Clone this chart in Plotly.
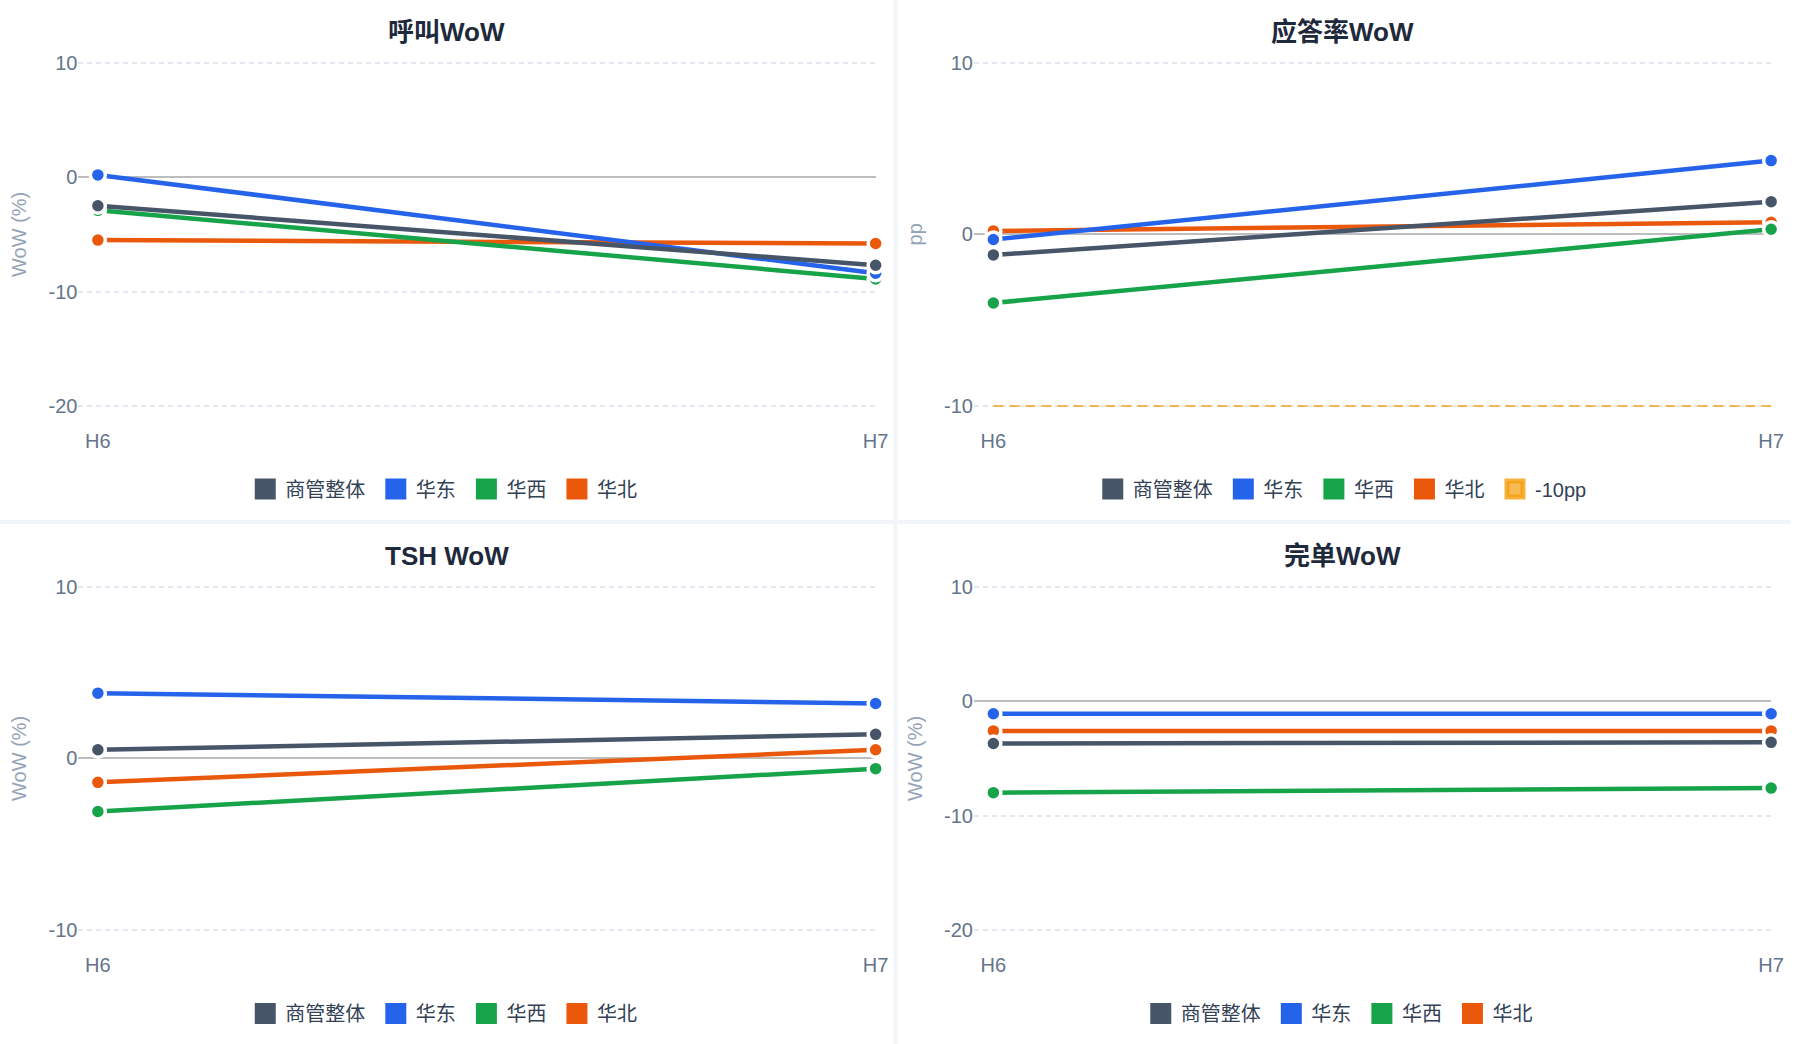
import plotly.graph_objects as go

# ---- data ----
periods = ["H6", "H7"]
regions = ["商管整体", "华东", "华西", "华北"]
region_colors = ["#475569", "#2563eb", "#16a34a", "#ea580c"]

calls_wow = {"商管整体": [-2.5, -7.7], "华东": [0.2, -8.4], "华西": [-2.9, -8.9], "华北": [-5.5, -5.8]}
answer_rate_wow = {"商管整体": [-1.2, 1.9], "华东": [-0.3, 4.3], "华西": [-4.0, 0.3], "华北": [0.2, 0.7]}
tsh_wow = {"商管整体": [0.5, 1.4], "华东": [3.8, 3.2], "华西": [-3.1, -0.6], "华北": [-1.4, 0.5]}
completed_wow = {"商管整体": [-3.7, -3.6], "华东": [-1.1, -1.1], "华西": [-8.0, -7.6], "华北": [-2.6, -2.6]}

answer_threshold = [-10, -10]
threshold_name = "-10pp"

ticks_wide = [-20, -10, 0, 10]
ticks_narrow = [-10, 0, 10]

W, H = 1804, 1044
FONT = "Liberation Sans, Noto Sans CJK SC, sans-serif"


def px_x(p):
    return p / W


def px_y(p):
    return 1 - p / H


# panel: title, data, y title, ticks, range, column, row
panels = [
    ("呼叫WoW", calls_wow, "WoW (%)", ticks_wide, [-21.85, 11.85], 0, 0),
    ("应答率WoW", answer_rate_wow, "pp", ticks_narrow, [-11.23, 11.23], 1, 0),
    ("TSH WoW", tsh_wow, "WoW (%)", ticks_narrow, [-11.23, 11.23], 0, 1),
    ("完单WoW", completed_wow, "WoW (%)", ticks_wide, [-21.85, 11.85], 1, 1),
]

fig = go.Figure()
annotations = []
layout_axes = {}

for i, (title, data, ytitle, ticks, yrange, col, row) in enumerate(panels):
    n = "" if i == 0 else str(i + 1)
    xa, ya = "x" + n, "y" + n
    leg = "legend" + n
    x0 = 79 + col * 902
    y0 = 41.7 + row * 524

    layout_axes["xaxis" + n] = dict(
        domain=[px_x(x0), px_x(x0 + 803)],
        anchor=ya,
        type="category",
        range=[-0.025, 1],
        showgrid=False,
        zeroline=False,
        showline=False,
        ticks="",
        tickfont=dict(size=20, color="#64748b"),
    )
    layout_axes["yaxis" + n] = dict(
        domain=[px_y(y0 + 385.3), px_y(y0)],
        anchor=xa,
        range=yrange,
        tickvals=ticks,
        ticktext=[str(t) for t in ticks],
        showgrid=True,
        gridcolor="#e2e8f0",
        griddash="5px,4px",
        gridwidth=1.5,
        zeroline=True,
        zerolinecolor="#bdbdbd",
        zerolinewidth=2,
        showline=False,
        ticks="",
        tickfont=dict(size=20, color="#64748b"),
        title=dict(text=ytitle, font=dict(size=20, color="#94a3b8"), standoff=16),
    )

    # threshold line for answer rate
    if title == "应答率WoW":
        fig.add_trace(
            go.Scatter(
                x=periods,
                y=answer_threshold,
                mode="lines",
                line=dict(color="#f59e0b", width=2, dash="10px,6px"),
                opacity=0.7,
                showlegend=False,
                legendgroup=f"{i}-{threshold_name}",
                xaxis=xa,
                yaxis=ya,
                hoverinfo="skip",
            )
        )

    # draw back-to-front so 商管整体 ends on top
    for r, c in reversed(list(zip(regions, region_colors))):
        fig.add_trace(
            go.Scatter(
                x=periods,
                y=data[r],
                mode="lines+markers",
                name=r,
                line=dict(color=c, width=4.5),
                marker=dict(size=15, color=c, line=dict(color="white", width=3.5)),
                showlegend=False,
                legendgroup=f"{i}-{r}",
                xaxis=xa,
                yaxis=ya,
                cliponaxis=False,
            )
        )

    # legend entries with square swatches
    for r, c in zip(regions, region_colors):
        fig.add_trace(
            go.Scatter(
                x=[None],
                y=[None],
                mode="markers",
                name=r + " ",
                marker=dict(symbol="square", size=16, color=c, line=dict(color=c, width=5)),
                legend=leg,
                legendgroup=f"{i}-{r}",
                xaxis=xa,
                yaxis=ya,
                hoverinfo="skip",
            )
        )
    if title == "应答率WoW":
        fig.add_trace(
            go.Scatter(
                x=[None],
                y=[None],
                mode="markers",
                name=threshold_name,
                marker=dict(
                    symbol="square",
                    size=16,
                    color="rgba(245,158,11,0.7)",
                    line=dict(color="rgba(245,158,11,0.8)", width=5),
                ),
                legend=leg,
                legendgroup=f"{i}-{threshold_name}",
                xaxis=xa,
                yaxis=ya,
                hoverinfo="skip",
            )
        )

    cx = 450 + col * 902
    layout_axes[leg] = dict(
        orientation="h",
        x=px_x(cx),
        xanchor="center",
        y=px_y(489 + row * 524.5),
        yanchor="middle",
        font=dict(size=20, color="#334155", family=FONT),
        itemsizing="trace",
        bgcolor="rgba(0,0,0,0)",
    )
    annotations.append(
        dict(
            text=f"<b>{title}</b>",
            x=px_x(cx),
            y=px_y(32 + row * 524),
            xref="paper",
            yref="paper",
            xanchor="center",
            yanchor="middle",
            showarrow=False,
            font=dict(size=26, color="#1e293b", family=FONT),
        )
    )

# card separators
shapes = [
    dict(type="rect", xref="paper", yref="paper", x0=px_x(900), x1=px_x(904), y0=0, y1=1,
         fillcolor="#f1f5f9", line=dict(width=0), layer="below"),
    dict(type="rect", xref="paper", yref="paper", x0=0, x1=1, y0=px_y(524), y1=px_y(520),
         fillcolor="#f1f5f9", line=dict(width=0), layer="below"),
]

fig.update_layout(
    width=W,
    height=H,
    autosize=False,
    margin=dict(l=0, r=0, t=0, b=0),
    paper_bgcolor="white",
    plot_bgcolor="white",
    font=dict(family=FONT, color="#64748b"),
    annotations=annotations,
    shapes=shapes,
    hovermode="closest",
    **layout_axes,
)

page_css = (
    "document.body.style.margin = '0px';"
    "document.body.style.overflow = 'hidden';"
    "document.documentElement.style.overflow = 'hidden';"
)
fig.write_html(
    "out.html",
    config={"displayModeBar": False, "responsive": False},
    post_script=page_css,
)
